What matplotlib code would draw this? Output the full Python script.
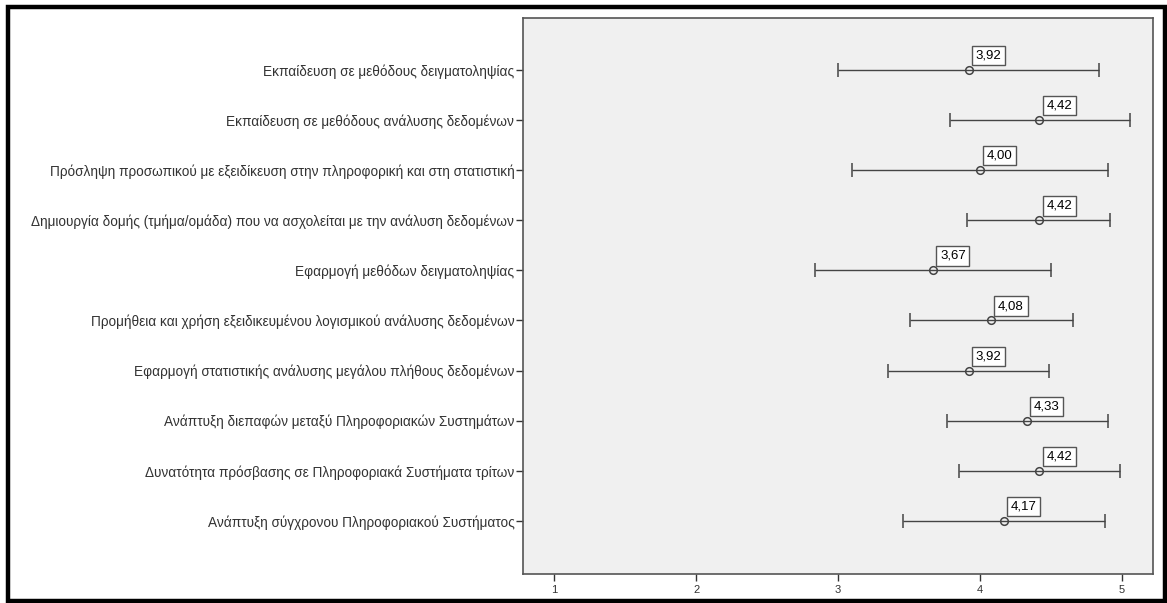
import matplotlib.pyplot as plt
from matplotlib.patches import Rectangle

# Data
labels = [
    'Εκπαίδευση σε μεθόδους δειγματοληψίας',
    'Εκπαίδευση σε μεθόδους ανάλυσης δεδομένων',
    'Πρόσληψη προσωπικού με εξειδίκευση στην πληροφορική και στη στατιστική',
    'Δημιουργία δομής (τμήμα/ομάδα) που να ασχολείται με την ανάλυση δεδομένων',
    'Εφαρμογή μεθόδων δειγματοληψίας',
    'Προμήθεια και χρήση εξειδικευμένου λογισμικού ανάλυσης δεδομένων',
    'Εφαρμογή στατιστικής ανάλυσης μεγάλου πλήθους δεδομένων',
    'Ανάπτυξη διεπαφών μεταξύ Πληροφοριακών Συστημάτων',
    'Δυνατότητα πρόσβασης σε Πληροφοριακά Συστήματα τρίτων',
    'Ανάπτυξη σύγχρονου Πληροφοριακού Συστήματος',
]
means = [3.92, 4.42, 4.00, 4.42, 3.67, 4.08, 3.92, 4.33, 4.42, 4.17]
lower = [3.00, 3.79, 3.10, 3.91, 2.84, 3.51, 3.35, 3.77, 3.85, 3.46]
upper = [4.84, 5.06, 4.90, 4.92, 4.50, 4.66, 4.49, 4.90, 4.99, 4.88]
xticks = [1, 2, 3, 4, 5]

plt.rcParams['font.family'] = ['Liberation Sans', 'DejaVu Sans']

fig = plt.figure(figsize=(11.67, 6.03), dpi=100)
ax = fig.add_axes([0.4479, 0.0481, 0.5404, 0.9216])
ax.set_facecolor('#f0f0f0')

ypos = list(range(len(labels)))
err_lo = [m - l for m, l in zip(means, lower)]
err_hi = [u - m for m, u in zip(means, upper)]
ax.errorbar(means, ypos, xerr=[err_lo, err_hi], fmt='o', color='#444444',
            ecolor='#444444', elinewidth=1.0, capsize=5, capthick=1.0,
            markersize=5.5, markerfacecolor='none', markeredgecolor='#444444',
            markeredgewidth=1.1)

for m, y in zip(means, ypos):
    ax.annotate(f'{m:.2f}'.replace('.', ','), xy=(m, y), xytext=(5, 6),
                textcoords='offset points', fontsize=9.5, color='black',
                ha='left', va='bottom',
                bbox=dict(boxstyle='square,pad=0.28', facecolor='white',
                          edgecolor='#555555', linewidth=1))

ax.set_xlim(0.777, 5.223)
ax.set_ylim(9 + 1.06, -1.03)
ax.set_xticks(xticks)
ax.set_xticklabels([str(t) for t in xticks], fontsize=8)
ax.set_yticks(ypos)
ax.set_yticklabels(labels, fontsize=9.8)
for t in ax.get_yticklabels():
    t.set_y(-0.04)
ax.tick_params(axis='both', direction='out', length=5, width=1, colors='#333333')
ax.tick_params(axis='y', pad=1)
ax.tick_params(axis='x', pad=3)
for s in ax.spines.values():
    s.set_color('#555555')
    s.set_linewidth(1.2)

# outer black frame
fig.patches.append(Rectangle((8 / 1167, 2.5 / 603), 1156.5 / 1167, 593.5 / 603,
                             transform=fig.transFigure, fill=False,
                             edgecolor='black', linewidth=3.2))

fig.savefig('out.png', dpi=100)
